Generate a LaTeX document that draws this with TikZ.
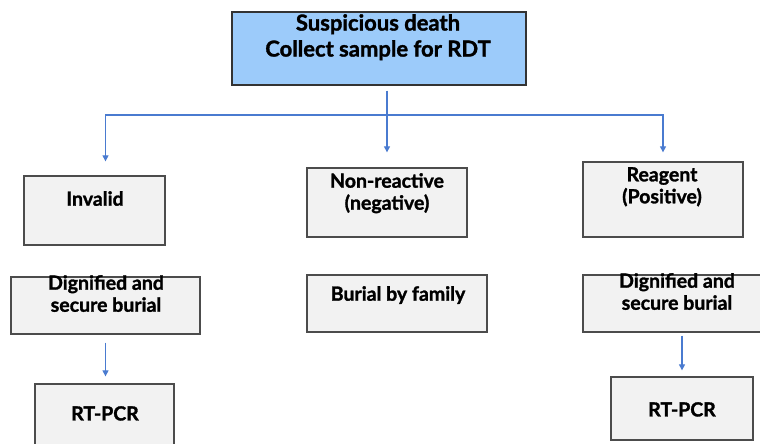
\documentclass[tikz,border=0pt]{standalone}
\usepackage{fontspec}
\setmainfont{Lato}[BoldFeatures={FakeBold=1.5}]
\usetikzlibrary{arrows.meta}
\definecolor{titleblue}{HTML}{9CCBFA}
\definecolor{boxgray}{HTML}{F2F2F2}
\definecolor{linkblue}{HTML}{4A7BD0}
\tikzset{
	box/.style={draw=black!70,line width=1.3pt,fill=boxgray,inner sep=0pt},
	boxtext/.style={anchor=north,align=center,inner sep=0pt,font=\bfseries\fontsize{19.5}{22}\selectfont},
	linkline/.style={draw=linkblue,line width=1.1pt},
	link/.style={linkline,-{Triangle[length=6pt,width=6pt]}}
}
\begin{document}
\begin{tikzpicture}[x=1pt,y=-1pt]
			\clip (0,0) rectangle (760,444);
			\fill[white] (0,0) rectangle (760,444);
			\node[box,fill=titleblue,draw=black!80,minimum width=294pt,minimum height=73pt] (title) at (379,48.5) {};
			\node[box,minimum width=141pt,minimum height=69pt] (invalid) at (94.5,210.5) {};
			\node[box,minimum width=160pt,minimum height=69pt] (nonreact) at (387,202.5) {};
			\node[box,minimum width=160pt,minimum height=75pt] (reagent) at (663,199.5) {};
			\node[box,minimum width=189pt,minimum height=57pt] (digleft) at (105.5,305.5) {};
			\node[box,minimum width=180pt,minimum height=57pt] (family) at (397,303.5) {};
			\node[box,minimum width=189pt,minimum height=57pt] (digright) at (677.5,303.5) {};
			\node[box,minimum width=139pt,minimum height=66pt] (rtleft) at (104.5,417) {};
			\node[box,minimum width=142pt,minimum height=63pt] (rtright) at (682,408.5) {};
			\node[boxtext,font=\bfseries\fontsize{22}{26}\selectfont] (titletxt) at (378,14) {Suspicious death\\Collect sample for RDT};
			\node[boxtext] (invalidtxt) at (95,191) {Invalid};
			\node[boxtext] (nonreacttxt) at (387,173) {Non-reactive\\(negative)};
			\node[boxtext] (reagenttxt) at (662,167) {Reagent\\(Positive)};
			\node[boxtext] (diglefttxt) at (106,275) {Dignified and\\secure burial};
			\node[boxtext] (familytxt) at (398,286) {Burial by family};
			\node[boxtext] (digrighttxt) at (677,273) {Dignified and\\secure burial};
			\node[boxtext] (rtlefttxt) at (105,406) {RT-PCR};
			\node[boxtext] (rtrighttxt) at (682,402) {RT-PCR};
			\coordinate (split) at (387,115);
			\draw[linkline] ([yshift=-5pt]title.south -| split) -- (split);
			\draw[link] (split) -| ([yshift=14pt]invalid.north -| digleft.north);
			\draw[link] (split) -- ([yshift=15pt]nonreact.north);
			\draw[link] (split) -| ([yshift=9pt]reagent.north);
			\draw[link] ([yshift=-8pt]digleft.south) -- ([yshift=7pt]rtleft.north -| digleft.south);
			\draw[link] ([yshift=-3pt]digright.south -| rtright.north) -- ([yshift=6pt]rtright.north);
		\end{tikzpicture}
\end{document}
